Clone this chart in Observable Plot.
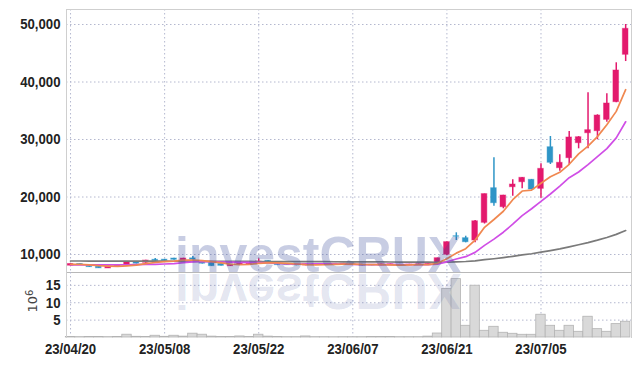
<!DOCTYPE html>
<html><head><meta charset="utf-8">
<script src="https://cdn.jsdelivr.net/npm/d3@7"></script>
<script src="https://cdn.jsdelivr.net/npm/@observablehq/plot@0.6"></script>
<style>
html,body{margin:0;padding:0;background:#fff;}
#wrap{position:relative;width:639px;height:366px;overflow:hidden;}
#wrap svg{position:absolute;left:0;}
</style></head><body><div id="wrap"></div>
<script>
const dates = ["23/04/20","23/04/21","23/04/24","23/04/25","23/04/26","23/04/27","23/04/28","23/05/02","23/05/03","23/05/04",
"23/05/08","23/05/09","23/05/10","23/05/11","23/05/12","23/05/15","23/05/16","23/05/17","23/05/18","23/05/19",
"23/05/22","23/05/23","23/05/24","23/05/25","23/05/26","23/05/30","23/05/31","23/06/01","23/06/02","23/06/05",
"23/06/07","23/06/08","23/06/09","23/06/12","23/06/13","23/06/14","23/06/15","23/06/16","23/06/19","23/06/20",
"23/06/21","23/06/22","23/06/23","23/06/26","23/06/27","23/06/28","23/06/29","23/06/30","23/07/03","23/07/04",
"23/07/05","23/07/06","23/07/07","23/07/10","23/07/11","23/07/12","23/07/13","23/07/14","23/07/17","23/07/18"];
const tickLabels = ["23/04/20","23/05/08","23/05/22","23/06/07","23/06/21","23/07/05"];
const priceTicks = [10000,20000,30000,40000,50000];
const volumeTicks = [5,10,15];

const open = [8050,8350,8000,7880,7580,7850,8150,8680,8560,9080,
9100,9300,8980,9330,8800,8550,8350,7970,8210,8310,
8610,8900,8450,8300,8250,8100,8200,8350,8200,8250,
8400,8250,8200,8100,8150,8250,8100,8200,8250,8600,
9950,13180,12840,12440,15510,21530,18230,21700,22570,22990,
21420,28660,25010,26750,29360,31090,31440,33420,36490,44730];
const high = [8400,8400,8050,7950,7950,8150,8800,8750,9000,9300,
9150,9350,9350,9650,8850,8600,8400,8250,8600,8700,
9250,8950,8500,8350,8300,8350,8400,8400,8450,8450,
8450,8300,8250,8350,8350,8300,8300,8350,8400,9360,
12160,13770,13180,15910,20510,26820,20300,22990,23400,23050,
25770,30520,27340,31390,30500,38120,34300,37950,43340,50000];
const low = [8000,8200,7750,7550,7550,7800,8030,8350,8500,8800,
8850,9000,8950,9050,8350,7950,8000,7950,8150,8300,
8440,8500,8100,8100,8050,8050,8150,8150,8150,8200,
8250,8000,8050,8050,8100,8000,8050,8150,8200,8550,
9800,12430,12030,12030,15300,18400,17950,20140,21430,21250,
19790,25650,24490,25480,28380,28380,29950,33010,36400,43560];
const close = [8350,8250,7800,7600,7900,8100,8730,8400,8950,8850,
8900,9080,9300,9080,8400,7970,8030,8210,8560,8660,
8780,8560,8150,8150,8100,8300,8350,8200,8400,8400,
8300,8050,8100,8300,8300,8050,8250,8300,8350,9360,
12150,13080,12140,15780,20510,18920,20260,22170,23340,21300,
24900,25950,25950,30350,30400,31620,34170,36260,42000,49250];
// volume in millions of shares
const volume = [0.15,0.1,0.12,0.15,0.1,0.15,0.8,0.2,0.15,0.5,
0.2,0.5,0.25,1.1,0.8,0.25,0.15,0.12,0.3,0.15,
0.8,0.25,0.15,0.1,0.1,0.3,0.1,0.1,0.08,0.1,
0.1,0.1,0.15,0.12,0.15,0.1,0.1,0.1,0.25,1.15,
13.96,16.8,3.37,14.9,1.93,3.08,1.36,1.07,0.78,0.78,
6.55,3.37,1.93,3.37,1.64,5.97,2.4,1.64,3.85,4.53];
const ma5 = [8300,8300,8200,8050,7980,7930,8030,8150,8420,8610,
8770,8840,9020,9040,8950,8770,8560,8340,8230,8290,
8450,8550,8540,8460,8350,8250,8210,8220,8270,8330,
8330,8270,8250,8230,8210,8160,8200,8240,8250,8460,
9280,10240,11010,12500,14730,16090,17520,19530,21040,21200,
22400,23530,24290,25690,27510,28850,30500,32560,34890,38660];
const ma10 = [8180,8200,8200,8190,8180,8190,8220,8240,8270,8290,
8350,8430,8580,8730,8780,8770,8700,8680,8640,8620,
8610,8555,8440,8350,8320,8350,8380,8380,8365,8340,
8290,8240,8235,8250,8270,8245,8235,8240,8235,8330,
8720,9220,9620,10370,11590,12680,13880,15270,16770,17960,
19240,20520,21900,23360,24350,25620,27010,28420,30280,33080];
const ma60 = [8870,8868,8865,8862,8858,8855,8850,8846,8842,8838,
8833,8829,8825,8820,8815,8810,8805,8800,8795,8790,
8785,8780,8774,8768,8762,8756,8750,8744,8738,8732,
8726,8720,8712,8705,8698,8690,8682,8674,8666,8655,
8680,8730,8785,8900,9095,9265,9455,9680,9920,10130,
10400,10680,10970,11330,11690,12070,12490,12950,13500,14170];

const rows = dates.map((d, i) => ({i, date: d, open: open[i], high: high[i], low: low[i], close: close[i],
  volume: volume[i], ma5: ma5[i], ma10: ma10[i], ma60: ma60[i]}));
const upRows = rows.filter(d => d.close >= d.open);
const downRows = rows.filter(d => d.close < d.open);
const tickIdx = rows.filter(d => tickLabels.includes(d.date)).map(d => d.i);

const W = 639, ML = 66, MR = 8;
const UP = "#e3196d", DOWN = "#2e95c7";
const FONT = "'Liberation Sans',Arial,sans-serif";
const xScale = {type: "linear", domain: [-0.43, 59.62]};
const gridStyle = {stroke: "#b4b8cf", strokeOpacity: 1, strokeWidth: 1, strokeDasharray: "1.5,2.5"};
const axisStyle = {fontFamily: FONT, fontSize: "15.5px", fontWeight: "bold", color: "#222", overflow: "visible"};

const mainPlot = Plot.plot({
  width: W, height: 272, marginLeft: ML, marginRight: MR, marginTop: 9, marginBottom: 0,
  style: axisStyle,
  x: {...xScale, axis: null},
  y: {domain: [6870, 52609], ticks: priceTicks, tickFormat: d3.format(","), tickSize: 0, tickPadding: 6, label: null},
  marks: [
    Plot.gridY(priceTicks, gridStyle),
    Plot.gridX(tickIdx, gridStyle),
    Plot.ruleX(upRows, {x: "i", y1: "low", y2: "high", stroke: UP, strokeWidth: 1.5}),
    Plot.ruleX(downRows, {x: "i", y1: "low", y2: "high", stroke: DOWN, strokeWidth: 1.5}),
    Plot.rect(upRows, {x1: d => d.i - 0.3, x2: d => d.i + 0.3, y1: "open", y2: "close", fill: UP, stroke: UP, strokeOpacity: 0.45, strokeWidth: 1}),
    Plot.rect(downRows, {x1: d => d.i - 0.3, x2: d => d.i + 0.3, y1: "open", y2: "close", fill: DOWN, stroke: DOWN, strokeOpacity: 0.45, strokeWidth: 1}),
    Plot.line(rows, {x: "i", y: "ma60", stroke: "#7a7a7a", strokeWidth: 1.7}),
    Plot.line(rows, {x: "i", y: "ma10", stroke: "#d04ee6", strokeWidth: 1.7}),
    Plot.line(rows, {x: "i", y: "ma5", stroke: "#f08850", strokeWidth: 1.7}),
    Plot.frame({stroke: "#cfcfcf"}),
    Plot.frame({anchor: "bottom", stroke: "#b8b8b8"})
  ]
});
mainPlot.style.top = "0px";

const volPlot = Plot.plot({
  width: W, height: 94, marginLeft: ML, marginRight: MR, marginTop: 0, marginBottom: 29,
  style: axisStyle,
  x: {...xScale, ticks: tickIdx, tickFormat: i => dates[i], tickSize: 0, tickPadding: 5, label: null},
  y: {domain: [0, 18.7], ticks: volumeTicks, tickSize: 0, tickPadding: 6, label: null},
  marks: [
    Plot.gridY(volumeTicks, gridStyle),
    Plot.gridX(tickIdx, gridStyle),
    Plot.rectY(rows, {x1: d => d.i - 0.5, x2: d => d.i + 0.5, y: "volume", fill: "#d9d9d9", stroke: "#b3b3b3", strokeWidth: 0.8}),
    Plot.frame({anchor: "left", stroke: "#cfcfcf"}),
    Plot.frame({anchor: "right", stroke: "#cfcfcf"})
  ]
});
volPlot.style.top = "272px";

const wrap = document.getElementById("wrap");
wrap.appendChild(mainPlot);
wrap.appendChild(volPlot);

// condensed look for tick labels (reference uses a narrow typeface)
d3.select(wrap).selectAll('g[aria-label$="tick label"] text').each(function() {
  const w = this.getComputedTextLength();
  if (w > 0) {
    this.setAttribute("textLength", (w * 0.85).toFixed(1));
    this.setAttribute("lengthAdjust", "spacingAndGlyphs");
  }
});

// unit label 10^6
d3.select(volPlot).append("text")
  .attr("transform", "translate(37,29) rotate(-90)")
  .attr("text-anchor", "middle")
  .attr("fill", "#444")
  .style("font-family", "'DejaVu Sans','Liberation Sans',sans-serif")
  .style("font-size", "13px")
  .style("font-weight", "normal")
  .call(t => { t.append("tspan").text("10"); t.append("tspan").attr("dy", "-0.45em").style("font-size", "10px").text("6"); });

// watermark
const wm = d3.select(wrap).append("svg")
  .attr("width", W).attr("height", 366)
  .style("top", "0px").style("pointer-events", "none");
const wmText = "investCRUX";
wm.append("text").attr("x", 175).attr("y", 272)
  .attr("fill", "rgb(50,70,150)").attr("fill-opacity", 0.27)
  .style("font-family", "'Liberation Sans',Arial,sans-serif").style("font-weight", "bold").style("font-size", "50px")
  .text(wmText);
wm.append("text").attr("x", 175).attr("y", 272)
  .attr("transform", "translate(0,546) scale(1,-1)")
  .attr("fill", "rgb(50,70,150)").attr("fill-opacity", 0.14)
  .style("font-family", "'Liberation Sans',Arial,sans-serif").style("font-weight", "bold").style("font-size", "50px")
  .text(wmText);
</script></body></html>
